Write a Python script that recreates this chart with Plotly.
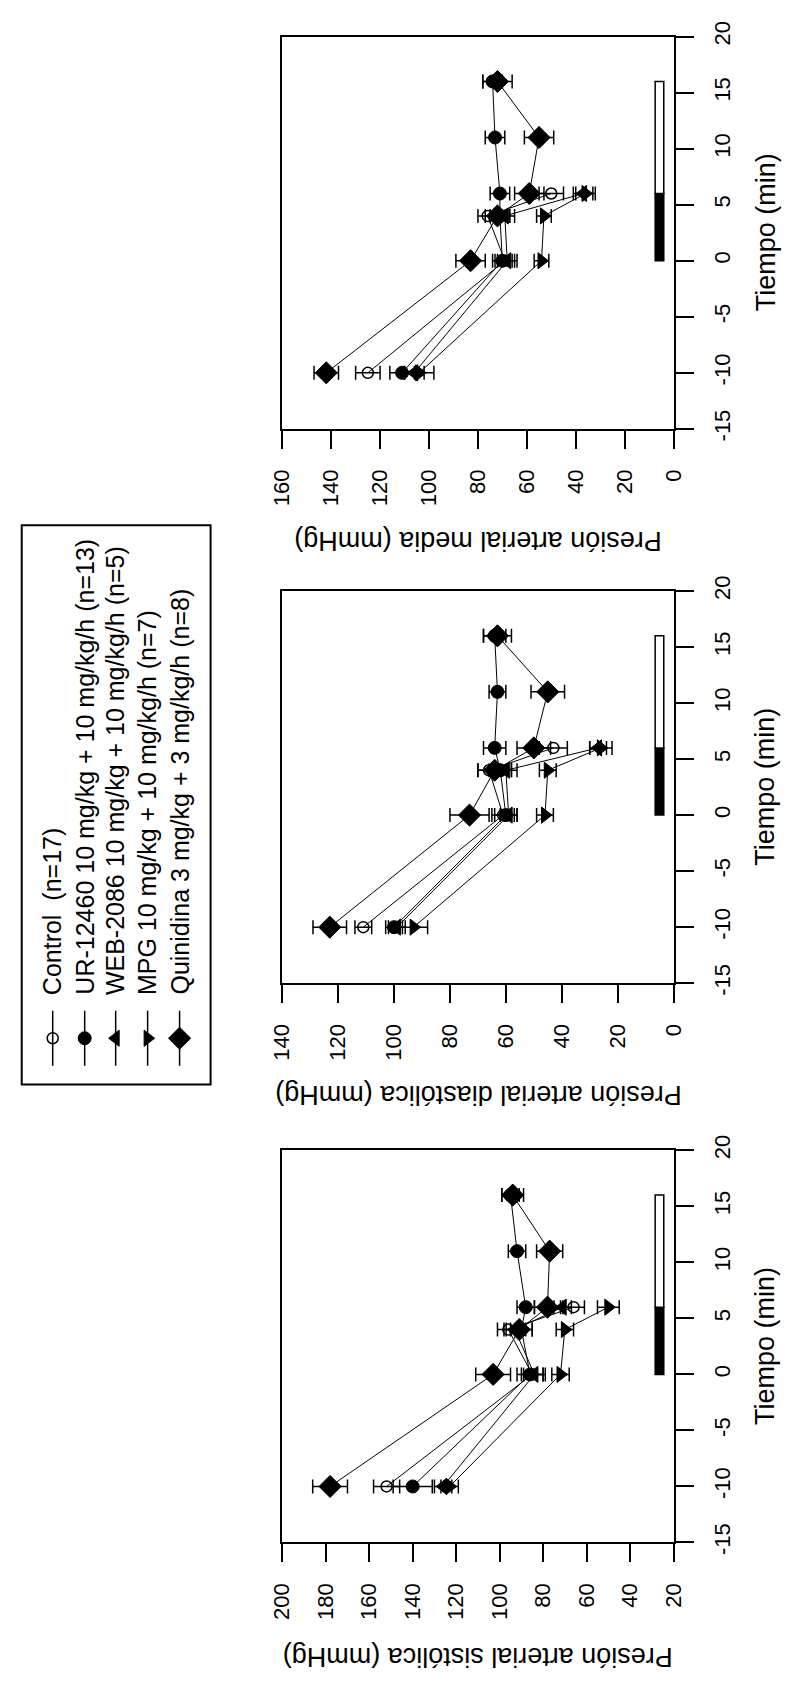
import plotly.graph_objects as go

W, H = 795, 1698
FONT = "Liberation Sans, Arial, sans-serif"

# Time points (min)
tiempo_corto = [-10, 0, 4, 6]
tiempo_largo = [-10, 0, 4, 6, 11, 16]
tiempo_ticks = [-15, -10, -5, 0, 5, 10, 15, 20]
tiempo_ticktext = ["-15", "-10", "-5", "0", "5", "10", "15", "20"]

grupos = [
    "Control  (n=17)",
    "UR-12460 10 mg/kg + 10 mg/kg/h (n=13)",
    "WEB-2086 10 mg/kg + 10 mg/kg/h (n=5)",
    "MPG 10 mg/kg + 10 mg/kg/h (n=7)",
    "Quinidina 3 mg/kg + 3 mg/kg/h (n=8)",
]

# Presión arterial media (mmHg): mean and SEM
pam_control = [125, 69, 76, 50]
pam_control_ee = [5, 4, 4, 5]
pam_ur = [111, 70, 71, 71, 73, 74]
pam_ur_ee = [5, 4, 4, 4, 4, 4]
pam_web = [106, 68, 69, 37]
pam_web_ee = [4, 4, 4, 4]
pam_mpg = [104, 54, 53, 36]
pam_mpg_ee = [6, 3, 3, 4]
pam_quin = [142, 83, 72, 59, 55, 72]
pam_quin_ee = [5, 6, 5, 6, 6, 6]

# Presión arterial diastólica (mmHg)
pad_control = [111, 61, 66, 43]
pad_control_ee = [3, 4, 4, 5]
pad_ur = [100, 60, 62, 64, 63, 64]
pad_ur_ee = [3, 4, 4, 4, 3, 4]
pad_web = [99, 59, 60, 27]
pad_web_ee = [3, 3, 4, 3]
pad_mpg = [93, 46, 45, 26]
pad_mpg_ee = [5, 3, 3, 4]
pad_quin = [123, 73, 64, 50, 45, 63]
pad_quin_ee = [6, 7, 6, 6, 6, 5]

# Presión arterial sistólica (mmHg)
pas_control = [152, 85, 96, 66]
pas_control_ee = [6, 5, 5, 5]
pas_ur = [140, 86, 90, 88, 92, 95]
pas_ur_ee = [9, 6, 5, 4, 4, 4]
pas_web = [126, 84, 93, 71]
pas_web_ee = [4, 5, 5, 4]
pas_mpg = [123, 72, 70, 50]
pas_mpg_ee = [4, 4, 4, 5]
pas_quin = [178, 103, 91, 78, 77, 94]
pas_quin_ee = [8, 8, 6, 6, 6, 5]

# Infusion (0-6 min) and recovery (6-16 min) periods
infusion = [0, 6]
recuperacion = [6, 16]

simbolos = [
    dict(symbol="circle-open", size=11, color="black", line=dict(color="black", width=1.5)),
    dict(symbol="circle", size=13, color="black", line=dict(color="black", width=1)),
    dict(symbol="triangle-left", size=14, color="black", line=dict(color="black", width=1)),
    dict(symbol="triangle-right", size=14, color="black", line=dict(color="black", width=1)),
    dict(symbol="diamond", size=17, color="black", line=dict(color="black", width=1)),
]


def px(xp):
    return xp / W


def py(yp):
    return 1 - yp / H


paneles = [
    dict(
        ax="", titulo="Presión arterial media (mmHg)", rango=[160, 0], ticks=list(range(0, 161, 20)),
        top=21, bottom=420, title_y=534,
        datos=[(tiempo_corto, pam_control, pam_control_ee), (tiempo_largo, pam_ur, pam_ur_ee),
               (tiempo_corto, pam_web, pam_web_ee), (tiempo_corto, pam_mpg, pam_mpg_ee),
               (tiempo_largo, pam_quin, pam_quin_ee)],
    ),
    dict(
        ax="2", titulo="Presión arterial diastólica (mmHg)", rango=[140, 0], ticks=list(range(0, 141, 20)),
        top=585, bottom=984, title_y=1097,
        datos=[(tiempo_corto, pad_control, pad_control_ee), (tiempo_largo, pad_ur, pad_ur_ee),
               (tiempo_corto, pad_web, pad_web_ee), (tiempo_corto, pad_mpg, pad_mpg_ee),
               (tiempo_largo, pad_quin, pad_quin_ee)],
    ),
    dict(
        ax="3", titulo="Presión arterial sistólica (mmHg)", rango=[200, 20], ticks=list(range(20, 201, 20)),
        top=1154, bottom=1553, title_y=1669,
        datos=[(tiempo_corto, pas_control, pas_control_ee), (tiempo_largo, pas_ur, pas_ur_ee),
               (tiempo_corto, pas_web, pas_web_ee), (tiempo_corto, pas_mpg, pas_mpg_ee),
               (tiempo_largo, pas_quin, pas_quin_ee)],
    ),
]

FRAME_L, FRAME_R = 278, 682

fig = go.Figure()
layout = dict(
    width=W, height=H, margin=dict(l=0, r=0, t=0, b=0),
    paper_bgcolor="white", plot_bgcolor="white", showlegend=False,
    font=dict(family=FONT, color="black"),
)
shapes = []
annotations = []

for p in paneles:
    xa, ya = "x" + p["ax"], "y" + p["ax"]
    for (t, v, e), sym in zip(p["datos"], simbolos):
        fig.add_trace(go.Scatter(
            x=v, y=t, xaxis=xa, yaxis=ya, mode="lines+markers",
            line=dict(color="black", width=1),
            marker=sym,
            error_x=dict(type="data", array=e, visible=True, color="black", thickness=1.5, width=7),
        ))
    axis_common = dict(
        showline=True, linecolor="black", linewidth=2, mirror=True,
        ticks="outside", ticklen=18, tickwidth=2, tickcolor="black",
        showgrid=False, zeroline=False,
        tickfont=dict(family=FONT, size=22, color="black"),
        tickangle=-90, fixedrange=True,
    )
    layout["xaxis" + p["ax"]] = dict(
        axis_common, domain=[px(FRAME_L), px(FRAME_R)], anchor=ya, side="bottom",
        range=p["rango"], tickvals=p["ticks"], ticktext=[str(v) for v in p["ticks"]],
        ticklabelstandoff=12,
    )
    layout["yaxis" + p["ax"]] = dict(
        axis_common, domain=[py(p["bottom"]), py(p["top"])], anchor=xa, side="right",
        range=[-15, 20], tickvals=tiempo_ticks, ticktext=tiempo_ticktext, ticklabelstandoff=10,
    )
    # Period bar: infusion (black) and recovery (white)
    shapes.append(dict(type="rect", xref=xa + " domain", yref=ya,
                       x0=0.953, x1=0.975, y0=infusion[0], y1=infusion[1],
                       fillcolor="black", line=dict(color="black", width=1.5)))
    shapes.append(dict(type="rect", xref=xa + " domain", yref=ya,
                       x0=0.953, x1=0.975, y0=recuperacion[0], y1=recuperacion[1],
                       fillcolor="white", line=dict(color="black", width=1.5)))
    annotations.append(dict(
        text=p["titulo"], xref="paper", yref="paper", x=px((FRAME_L + FRAME_R) / 2), y=py(p["title_y"]),
        xanchor="center", yanchor="middle", textangle=180, showarrow=False,
        font=dict(family=FONT, size=27, color="black"),
    ))
    annotations.append(dict(
        text="Tiempo (min)", xref="paper", yref="paper", x=px(777), y=py((p["top"] + p["bottom"]) / 2),
        xanchor="center", yanchor="middle", textangle=-90, showarrow=False,
        font=dict(family=FONT, size=27, color="black"),
    ))

# Legend box
LEG_L, LEG_R, LEG_T, LEG_B = 9, 204, 518, 1087
shapes.append(dict(type="rect", xref="paper", yref="paper",
                   x0=px(LEG_L), x1=px(LEG_R), y0=py(LEG_B), y1=py(LEG_T),
                   line=dict(color="black", width=2), fillcolor="rgba(0,0,0,0)"))
layout["xaxis4"] = dict(domain=[px(LEG_L), px(LEG_R)], range=[LEG_L, LEG_R], visible=False, anchor="y4", fixedrange=True)
layout["yaxis4"] = dict(domain=[py(LEG_B), py(LEG_T)], range=[LEG_B, LEG_T], visible=False, anchor="x4", fixedrange=True)

leg_cols = [41, 74, 106, 139, 172]
for xc, sym, nombre in zip(leg_cols, simbolos, grupos):
    fig.add_trace(go.Scatter(x=[xc, xc], y=[1012, 1068], xaxis="x4", yaxis="y4", mode="lines",
                             line=dict(color="black", width=1.5), hoverinfo="skip"))
    fig.add_trace(go.Scatter(x=[xc], y=[1040], xaxis="x4", yaxis="y4", mode="markers",
                             marker=sym, hoverinfo="skip"))
    annotations.append(dict(
        text=nombre, xref="paper", yref="paper", x=px(xc), y=py(998),
        xanchor="center", yanchor="bottom", textangle=-90, showarrow=False,
        font=dict(family=FONT, size=25, color="black"),
    ))

layout["shapes"] = shapes
layout["annotations"] = annotations
fig.update_layout(**layout)
fig.write_html("out.html")
